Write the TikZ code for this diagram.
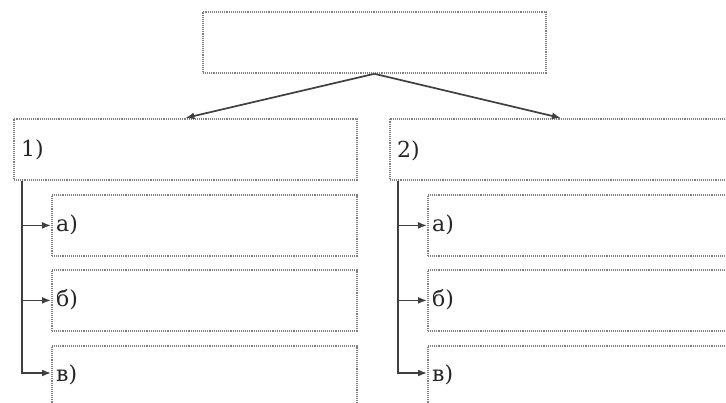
\documentclass[tikz,border=0pt]{standalone}
\usepackage{fontspec}
\setmainfont{DejaVu Serif}
\usetikzlibrary{arrows.meta,calc}
\begin{document}
\begin{tikzpicture}[x=1pt,y=-1pt,
  box/.style={draw=black!50,line width=1.8pt,dash pattern=on 1.1pt off 1pt,
    minimum width=#1,minimum height=61pt,inner sep=0pt,anchor=north west},
  box/.default=343pt,
  conn/.style={draw=black!75,line width=1.7pt},
  arr/.style={conn,-{Latex[length=9pt,width=7pt]}},
  lbl/.style={anchor=base west,inner sep=0pt,font=\fontsize{22}{26}\selectfont,text=black!85}]
\useasboundingbox (0,0) rectangle (726,403);
\fill[white] (0,0) rectangle (726,403);
\begin{scope}
\clip (0,0) rectangle (726,403);
% top box
\node[box=343pt] (top) at (202,11) {};
% level 1
\node[box=343pt] (b1) at (13,118) {};
\node[box=342pt] (b2) at (389,118) {};
\node[lbl] (l1) at (21,157) {1)};
\node[lbl] (l2) at (397,158) {2)};
% sub boxes left
\node[box=305pt] (s1a) at (51,194) {};
\node[box=305pt] (s1b) at (51,269) {};
\node[box=305pt] (s1c) at (51,345) {};
% sub boxes right
\node[box=305pt] (s2a) at (427,194) {};
\node[box=305pt] (s2b) at (427,269) {};
\node[box=305pt] (s2c) at (427,345) {};
% labels
\node[lbl] (la1) at (56,232) {а)};
\node[lbl] (lb1) at (56,307) {б)};
\node[lbl] (lc1) at (56,382) {в)};
\node[lbl] (la2) at (432,232) {а)};
\node[lbl] (lb2) at (432,307) {б)};
\node[lbl] (lc2) at (432,382) {в)};
% arrows from top
\draw[arr] (top.south) -- (b1.north);
\draw[arr] (top.south) -- (b2.north);
% branch left
\coordinate (t1) at ($(b1.south west)+(9,0)$);
\coordinate (c1) at ($(s1c.north west)+(0,28)$);
\draw[conn] (t1) |- ($(c1)+(-8,0)$);
\draw[arr] (t1 |- s1a.west) -- (s1a.west);
\draw[arr] (t1 |- s1b.west) -- (s1b.west);
\draw[arr] ($(t1 |- c1)+(-0.85,0)$) -- (c1);
% branch right
\coordinate (t2) at ($(b2.south west)+(9,0)$);
\coordinate (c2) at ($(s2c.north west)+(0,28)$);
\draw[conn] (t2) |- ($(c2)+(-8,0)$);
\draw[arr] (t2 |- s2a.west) -- (s2a.west);
\draw[arr] (t2 |- s2b.west) -- (s2b.west);
\draw[arr] ($(t2 |- c2)+(-0.85,0)$) -- (c2);
\end{scope}
\end{tikzpicture}
\end{document}
